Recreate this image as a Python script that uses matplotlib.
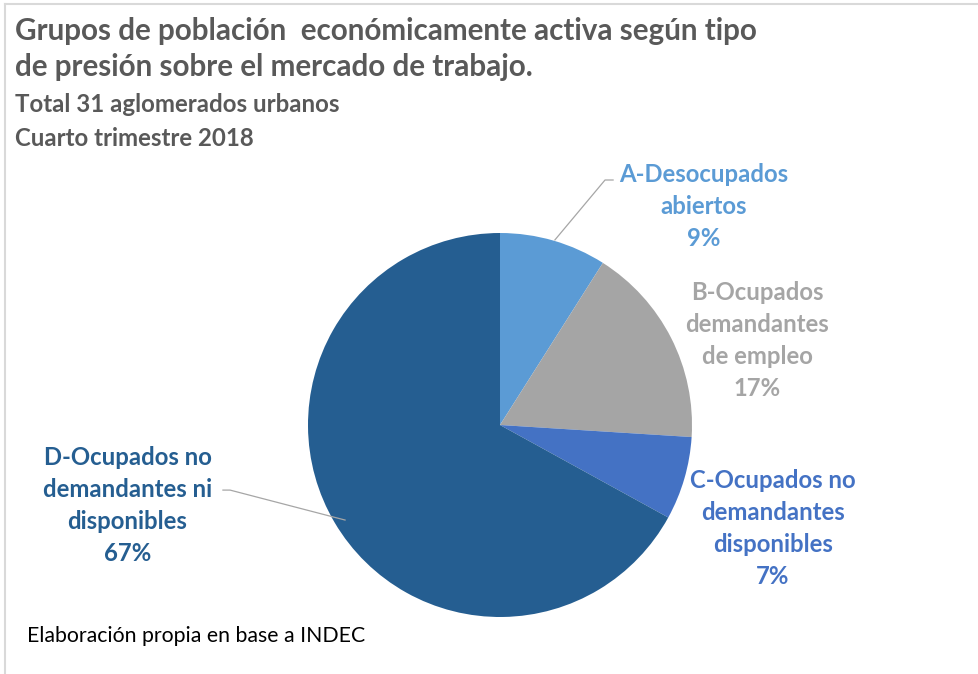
import matplotlib
matplotlib.use('Agg')
import matplotlib.pyplot as plt
from matplotlib.lines import Line2D

# datos
labels = ['A-Desocupados\nabiertos', 'B-Ocupados\ndemandantes\nde empleo',
          'C-Ocupados no\ndemandantes\ndisponibles', 'D-Ocupados no\ndemandantes ni\ndisponibles']
values = [9, 17, 7, 67]
colors = ['#5B9BD5', '#A5A5A5', '#4472C4', '#255E91']

title = 'Grupos de población  económicamente activa según tipo\nde presión sobre el mercado de trabajo.'
subtitle = ['Total 31 aglomerados urbanos', 'Cuarto trimestre 2018']
footer = 'Elaboración propia en base a INDEC'

W, H = 979, 674
fig = plt.figure(figsize=(W / 100, H / 100), dpi=100)
plt.rcParams['font.family'] = ['Lato', 'DejaVu Sans']


def fx(px):
    return px / W


def fy(py):
    return 1 - py / H


# marco gris (captura)
fig.add_artist(Line2D([fx(5), fx(5)], [0, fy(4)], color='#D9D9D9', lw=1.5))
fig.add_artist(Line2D([fx(5), 1], [fy(4), fy(4)], color='#D9D9D9', lw=1.5))

# pie: centro (500, 425), radio 192 px
cx, cy, r = 500, 425, 192
ax = fig.add_axes([fx(cx - r), fy(cy + r), (2 * r) / W, (2 * r) / H])
ax.pie(values, colors=colors, startangle=90, counterclock=False,
       wedgeprops=dict(linewidth=0))
ax.set_xlim(-1, 1)
ax.set_ylim(-1, 1)
ax.set_aspect('equal')
ax.set_clip_on(False)

# etiquetas (coordenadas en unidades de radio)
label_pos = [(1.06, 1.14), (1.34, 0.44), (1.42, -0.54), (-1.94, -0.42)]
for lab, v, c, (x, y) in zip(labels, values, colors, label_pos):
    ax.text(x, y, f'{lab}\n{v}%', color=c, fontsize=17.2, fontweight='bold',
            ha='center', va='center', linespacing=1.48, clip_on=False)

# líneas guía
ax.plot([0.286, 0.547, 0.589], [0.964, 1.276, 1.276], color='#A6A6A6', lw=0.9, clip_on=False)
ax.plot([-0.807, -1.406, -1.443], [-0.495, -0.339, -0.339], color='#A6A6A6', lw=0.9, clip_on=False)

# títulos
fig.text(fx(15), fy(49), title, fontsize=21.3, fontweight='bold', color='#595959',
         ha='left', va='center', linespacing=1.33)
for i, s in enumerate(subtitle):
    fig.text(fx(15), fy(104 + 34 * i), s, fontsize=17.3, fontweight='bold', color='#595959',
             ha='left', va='center')

fig.text(fx(27), fy(636), footer, fontsize=15.3, color='black', ha='left', va='center')

fig.savefig('out.png', dpi=100)
